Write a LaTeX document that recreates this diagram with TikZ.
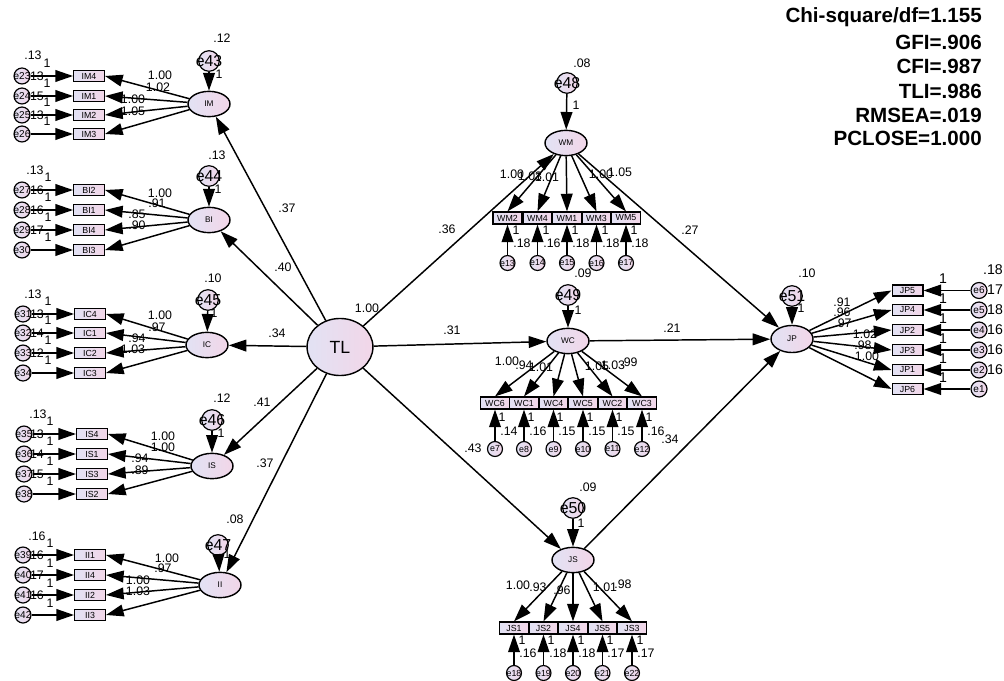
\documentclass[tikz,border=0pt]{standalone}
\usepackage{fontspec}
\setmainfont{Liberation Sans}
\usetikzlibrary{shapes.geometric,arrows.meta}
\definecolor{lav}{RGB}{226,226,244}
\definecolor{pnk}{RGB}{242,214,232}
\newcommand{\zw}[1]{\makebox[0pt][c]{#1}}
\tikzset{
  lat/.style={ellipse, draw, line width=1.2pt, left color=lav, right color=pnk, minimum width=35.7pt, minimum height=21.5pt, inner sep=0pt, font=\fontsize{7}{8}\selectfont},
  obs/.style={rectangle, draw, line width=1.2pt, left color=lav, right color=pnk, minimum width=26pt, minimum height=9.6pt, inner sep=0pt, font=\fontsize{7.5}{8}\selectfont},
  obsm/.style={obs, minimum width=24.6pt, minimum height=10pt},
  err/.style={circle, draw, line width=1pt, left color=lav, right color=pnk, minimum size=13.6pt, inner sep=0pt, font=\fontsize{8.5}{9}\selectfont},
  errs/.style={err, minimum size=12.7pt, font=\fontsize{7.5}{8}\selectfont},
  errb/.style={err, minimum size=17.5pt, font=\fontsize{13.5}{14}\selectfont},
  lbl/.style={inner sep=0pt, font=\fontsize{10.5}{11}\selectfont},
  lblr/.style={inner sep=0pt, font=\fontsize{12}{13}\selectfont},
  fit/.style={anchor=east, inner sep=0pt, font=\fontsize{17.5}{18}\selectfont\bfseries},
  arr/.style={-{Triangle[length=15pt,width=10pt]}, line width=1.25pt},
}
\begin{document}
\begin{tikzpicture}[x=0.85pt,y=-0.85pt]
\useasboundingbox (0,0) rectangle (1004,681);

% ---------- fit statistics ----------
\node[fit] (f1) at (982,17) {Chi-square/df=1.155};
\node[fit] (f2) at (982,42) {GFI=.906};
\node[fit] (f3) at (982,66) {CFI=.987};
\node[fit] (f4) at (982,91) {TLI=.986};
\node[fit] (f5) at (982,115) {RMSEA=.019};
\node[fit] (f6) at (982,138) {PCLOSE=1.000};

% ---------- labels (drawn first, arrows over them) ----------
% IM block
\node[lbl] at (33,55) {.13};
\node[lbl] at (47,63) {1}; \node[lbl] at (37,76) {13};
\node[lbl] at (47,83) {1}; \node[lbl] at (37,96) {15};
\node[lbl] at (47,102) {1}; \node[lbl] at (37,115) {13};
\node[lbl] at (47,121) {1};
\node[lbl] at (222,38) {.12}; \node[lbl] at (219,74) {1};
\node[lbl] at (160,75) {1.00}; \node[lbl] at (158,87) {1.02};
\node[lbl] at (133,99) {1.00}; \node[lbl] at (133,111) {1.05};
% BI block
\node[lbl] at (35,170) {.13};
\node[lbl] at (48,177) {1}; \node[lbl] at (37,190) {16};
\node[lbl] at (48,197) {1}; \node[lbl] at (37,210) {16};
\node[lbl] at (48,217) {1}; \node[lbl] at (37,230) {17};
\node[lbl] at (48,237) {1};
\node[lbl] at (217,155) {.13}; \node[lbl] at (218,189) {1};
\node[lbl] at (160,193) {1.00}; \node[lbl] at (157,203) {.91};
\node[lbl] at (137,214) {.85}; \node[lbl] at (137,225) {.90};
% IC block
\node[lbl] at (33,294) {.13};
\node[lbl] at (48,301) {1}; \node[lbl] at (37,314) {13};
\node[lbl] at (48,320) {1}; \node[lbl] at (37,333) {14};
\node[lbl] at (48,340) {1}; \node[lbl] at (37,353) {12};
\node[lbl] at (48,360) {1};
\node[lbl] at (213,278) {.10}; \node[lbl] at (214,313) {1};
\node[lbl] at (160,315) {1.00}; \node[lbl] at (157,327) {.97};
\node[lbl] at (137,338) {.94}; \node[lbl] at (133,349) {1.03};
% IS block
\node[lbl] at (38,414) {.13};
\node[lbl] at (50,421) {1}; \node[lbl] at (37,434) {13};
\node[lbl] at (50,441) {1}; \node[lbl] at (37,454) {14};
\node[lbl] at (50,461) {1}; \node[lbl] at (37,474) {15};
\node[lbl] at (50,481) {1};
\node[lbl] at (222,398) {.12}; \node[lbl] at (221,433) {1};
\node[lbl] at (163,436) {1.00}; \node[lbl] at (163,447) {1.00};
\node[lbl] at (140,458) {.94}; \node[lbl] at (140,470) {.89};
% II block
\node[lbl] at (37,536) {.16};
\node[lbl] at (50,543) {1}; \node[lbl] at (37,555) {16};
\node[lbl] at (50,563) {1}; \node[lbl] at (37,575) {17};
\node[lbl] at (50,583) {1}; \node[lbl] at (37,595) {16};
\node[lbl] at (50,603) {1};
\node[lbl] at (235,519) {.08}; \node[lbl] at (227,554) {1};
\node[lbl] at (167,558) {1.00}; \node[lbl] at (163,568) {.97};
\node[lbl] at (138,580) {1.00}; \node[lbl] at (138,591) {1.03};
% structural
\node[lbl] at (287,208) {.37};
\node[lbl] at (283,267) {.40};
\node[lbl] at (277,333) {.34};
\node[lbl] at (262,402) {.41};
\node[lbl] at (265,463) {.37};
\node[lbl] at (367,308) {1.00};
\node[lbl] at (447,229) {.36};
\node[lbl] at (452,330) {.31};
\node[lbl] at (473,448) {.43};
\node[lbl] at (690,230) {.27};
\node[lbl] at (672,328) {.21};
\node[lbl] at (670,439) {.34};
% WM block
\node[lbl] at (582,63) {.08}; \node[lbl] at (576,105) {1};
\node[lbl] at (512,174) {1.00}; \node[lbl] at (530,176) {1.03}; \node[lbl] at (547,177) {1.01};
\node[lbl] at (601,174) {1.00}; \node[lbl] at (620,172) {1.05};
\node[lbl] at (516,230) {1}; \node[lbl] at (522,243) {.18};
\node[lbl] at (546,230) {1}; \node[lbl] at (552,243) {.16};
\node[lbl] at (575,230) {1}; \node[lbl] at (581,243) {.18};
\node[lbl] at (605,230) {1}; \node[lbl] at (611,243) {.18};
\node[lbl] at (634,230) {1}; \node[lbl] at (640,243) {.18};
% WC block
\node[lbl] at (583,273) {.09}; \node[lbl] at (578,310) {1};
\node[lbl] at (507,361) {1.00}; \node[lbl] at (524,365) {.94}; \node[lbl] at (541,367) {1.01};
\node[lbl] at (597,366) {1.05}; \node[lbl] at (613,365) {1.03}; \node[lbl] at (629,362) {.99};
\node[lbl] at (502,417) {1}; \node[lbl] at (509,431) {.14};
\node[lbl] at (531,417) {1}; \node[lbl] at (538,431) {.16};
\node[lbl] at (560,417) {1}; \node[lbl] at (567,431) {.15};
\node[lbl] at (590,417) {1}; \node[lbl] at (597,431) {.15};
\node[lbl] at (619,417) {1}; \node[lbl] at (626,431) {.15};
\node[lbl] at (649,417) {1}; \node[lbl] at (656,431) {.16};
% JS block
\node[lbl] at (588,487) {.09}; \node[lbl] at (581,523) {1};
\node[lbl] at (518,585) {1.00}; \node[lbl] at (538,587) {.93}; \node[lbl] at (562,590) {.96};
\node[lbl] at (605,587) {1.01}; \node[lbl] at (623,584) {.98};
\node[lbl] at (522,640) {1}; \node[lbl] at (528,653) {.16};
\node[lbl] at (551,640) {1}; \node[lbl] at (558,653) {.18};
\node[lbl] at (581,640) {1}; \node[lbl] at (587,653) {.18};
\node[lbl] at (610,640) {1}; \node[lbl] at (616,653) {.17};
\node[lbl] at (640,640) {1}; \node[lbl] at (646,653) {.17};
% JP block
\node[lbl] at (807,273) {.10}; \node[lbl] at (801,308) {1};
\node[lbl] at (842,302) {.91}; \node[lbl] at (842,312) {.96}; \node[lbl] at (843,323) {.97};
\node[lbl] at (865,334) {1.02}; \node[lbl] at (863,345) {.98}; \node[lbl] at (867,356) {1.00};
\node[lblr] at (943,279) {1}; \node[lblr] at (943,299) {1}; \node[lblr] at (943,319) {1};
\node[lblr] at (943,339) {1}; \node[lblr] at (943,359) {1}; \node[lblr] at (943,378) {1};
\node[lblr] at (993,270) {.18};
\node[lblr] at (995,290) {17}; \node[lblr] at (995,310) {18}; \node[lblr] at (995,330) {16};
\node[lblr] at (995,350) {16}; \node[lblr] at (995,370) {16};

% ---------- nodes ----------
\node[lat, minimum width=56pt, minimum height=48.5pt, font=\fontsize{15}{16}\selectfont] (TL) at (340,347) {TL};

% IM
\node[lat] (IM) at (209,104) {IM};
\node[errb] (e43) at (209,61) {\zw{e43}};
\node[obs] (IM4) at (89,76) {IM4};
\node[obs] (IM1) at (89,96) {IM1};
\node[obs] (IM2) at (89,115) {IM2};
\node[obs] (IM3) at (89,134) {IM3};
\node[err] (e23) at (22,76) {\zw{e23}};
\node[err] (e24) at (22,96) {\zw{e24}};
\node[err] (e25) at (22,115) {\zw{e25}};
\node[err] (e26) at (22,134) {\zw{e26}};
% BI
\node[lat] (BI) at (209,220) {BI};
\node[errb] (e44) at (209,176) {\zw{e44}};
\node[obs] (BI2) at (89,190) {BI2};
\node[obs] (BI1) at (89,210) {BI1};
\node[obs] (BI4) at (89,230) {BI4};
\node[obs] (BI3) at (89,250) {BI3};
\node[err] (e27) at (22,190) {\zw{e27}};
\node[err] (e28) at (22,210) {\zw{e28}};
\node[err] (e29) at (22,230) {\zw{e29}};
\node[err] (e30) at (22,250) {\zw{e30}};
% IC
\node[lat] (IC) at (207,345) {IC};
\node[errb] (e45) at (208,300) {\zw{e45}};
\node[obs] (IC4) at (90,314) {IC4};
\node[obs] (IC1) at (90,333) {IC1};
\node[obs] (IC2) at (90,353) {IC2};
\node[obs] (IC3) at (90,373) {IC3};
\node[err] (e31) at (23,314) {\zw{e31}};
\node[err] (e32) at (23,333) {\zw{e32}};
\node[err] (e33) at (23,353) {\zw{e33}};
\node[err] (e34) at (23,373) {\zw{e34}};
% IS
\node[lat] (IS) at (212,466) {IS};
\node[errb] (e46) at (212,420) {\zw{e46}};
\node[obs] (IS4) at (92,434) {IS4};
\node[obs] (IS1) at (92,454) {IS1};
\node[obs] (IS3) at (92,474) {IS3};
\node[obs] (IS2) at (92,494) {IS2};
\node[err] (e35) at (24,434) {\zw{e35}};
\node[err] (e36) at (24,454) {\zw{e36}};
\node[err] (e37) at (24,474) {\zw{e37}};
\node[err] (e38) at (24,494) {\zw{e38}};
% II
\node[lat] (II) at (220,585) {II};
\node[errb] (e47) at (218,545) {\zw{e47}};
\node[obs] (II1) at (90,555) {II1};
\node[obs] (II4) at (90,575) {II4};
\node[obs] (II2) at (90,595) {II2};
\node[obs] (II3) at (90,615) {II3};
\node[err] (e39) at (23,555) {\zw{e39}};
\node[err] (e40) at (23,575) {\zw{e40}};
\node[err] (e41) at (23,595) {\zw{e41}};
\node[err] (e42) at (23,615) {\zw{e42}};
% WM
\node[lat] (WM) at (566,143) {WM};
\node[errb] (e48) at (567,83) {\zw{e48}};
\node[obsm] (WM2) at (507.5,218) {WM2};
\node[obsm] (WM4) at (537.5,218) {WM4};
\node[obsm] (WM1) at (567,218) {WM1};
\node[obsm] (WM3) at (596.5,218) {WM3};
\node[obsm] (WM5) at (626,218) {WM5};
\node[errs] (e13) at (507.5,263) {\zw{e13}};
\node[errs] (e14) at (537.5,263) {\zw{e14}};
\node[errs] (e15) at (567,263) {\zw{e15}};
\node[errs] (e16) at (596.5,263) {\zw{e16}};
\node[errs] (e17) at (626,263) {\zw{e17}};
% WC
\node[lat] (WC) at (568,341) {WC};
\node[errb] (e49) at (568,295) {\zw{e49}};
\node[obsm] (WC6) at (495,403) {WC6};
\node[obsm] (WC1) at (524,403) {WC1};
\node[obsm] (WC4) at (553.5,403) {WC4};
\node[obsm] (WC5) at (583,403) {WC5};
\node[obsm] (WC2) at (612.5,403) {WC2};
\node[obsm] (WC3) at (642,403) {WC3};
\node[errs] (e7) at (495,449) {\zw{e7}};
\node[errs] (e8) at (524,449) {\zw{e8}};
\node[errs] (e9) at (553.5,449) {\zw{e9}};
\node[errs] (e10) at (583,449) {\zw{e10}};
\node[errs] (e11) at (612.5,449) {\zw{e11}};
\node[errs] (e12) at (642,449) {\zw{e12}};
% JS
\node[lat] (JS) at (573,560) {JS};
\node[errb] (e50) at (573,508) {\zw{e50}};
\node[obsm] (JS1) at (514,628) {JS1};
\node[obsm] (JS2) at (543.5,628) {JS2};
\node[obsm] (JS4) at (573,628) {JS4};
\node[obsm] (JS5) at (602.5,628) {JS5};
\node[obsm] (JS3) at (632,628) {JS3};
\node[errs] (e18) at (514,673) {\zw{e18}};
\node[errs] (e19) at (543.5,673) {\zw{e19}};
\node[errs] (e20) at (573,673) {\zw{e20}};
\node[errs] (e21) at (602.5,673) {\zw{e21}};
\node[errs] (e22) at (632,673) {\zw{e22}};
% JP
\node[lat, minimum height=23pt] (JP) at (792,339) {JP};
\node[errb] (e51) at (792,296) {\zw{e51}};
\node[obs] (JP5) at (907.5,290.5) {JP5};
\node[obs] (JP4) at (907.5,310) {JP4};
\node[obs] (JP2) at (907.5,330) {JP2};
\node[obs] (JP3) at (907.5,350) {JP3};
\node[obs] (JP1) at (907.5,370) {JP1};
\node[obs] (JP6) at (907.5,389) {JP6};
\node[err] (e6) at (979,290.5) {\zw{e6}};
\node[err] (e5) at (979,310) {\zw{e5}};
\node[err] (e4) at (979,330) {\zw{e4}};
\node[err] (e3) at (979,350) {\zw{e3}};
\node[err] (e2) at (979,370) {\zw{e2}};
\node[err] (e1) at (979,389) {\zw{e1}};

% ---------- connectors ----------
% structural
\draw[arr] (TL) -- (IM);
\draw[arr] (TL) -- (BI);
\draw[arr] (TL) -- (IC);
\draw[arr] (TL) -- (IS);
\draw[arr] (TL) -- (II);
\draw[arr] (TL) -- (WM);
\draw[arr] (TL) -- (WC);
\draw[arr] (TL) -- (JS);
\draw[arr] (WM) -- (JP);
\draw[arr] (WC) -- (JP);
\draw[arr] (JS) -- (JP);
% disturbances
\draw[arr] (e43) -- (IM);
\draw[arr] (e44) -- (BI);
\draw[arr] (e45) -- (IC);
\draw[arr] (e46) -- (IS);
\draw[arr] (e47) -- (II);
\draw[arr] (e48) -- (WM);
\draw[arr] (e49) -- (WC);
\draw[arr] (e50) -- (JS);
\draw[arr] (e51) -- (JP);
% left measurement
\foreach \l/\a/\b/\c/\d in {IM/IM4/IM1/IM2/IM3, BI/BI2/BI1/BI4/BI3, IC/IC4/IC1/IC2/IC3, IS/IS4/IS1/IS3/IS2, II/II1/II4/II2/II3}{
  \draw[arr] (\l) -- (\a.east);
  \draw[arr] (\l) -- (\b.east);
  \draw[arr] (\l) -- (\c.east);
  \draw[arr] (\l) -- (\d.east);
}
\foreach \e/\o in {e23/IM4,e24/IM1,e25/IM2,e26/IM3,e27/BI2,e28/BI1,e29/BI4,e30/BI3,e31/IC4,e32/IC1,e33/IC2,e34/IC3,e35/IS4,e36/IS1,e37/IS3,e38/IS2,e39/II1,e40/II4,e41/II2,e42/II3}{
  \draw[arr] (\e) -- (\o.west);
}
% middle measurement
\foreach \o in {WM2,WM4,WM1,WM3,WM5}{ \draw[arr] (WM) -- (\o.north); }
\foreach \o in {WC6,WC1,WC4,WC5,WC2,WC3}{ \draw[arr] (WC) -- (\o.north); }
\foreach \o in {JS1,JS2,JS4,JS5,JS3}{ \draw[arr] (JS) -- (\o.north); }
\foreach \e/\o in {e13/WM2,e14/WM4,e15/WM1,e16/WM3,e17/WM5,e7/WC6,e8/WC1,e9/WC4,e10/WC5,e11/WC2,e12/WC3,e18/JS1,e19/JS2,e20/JS4,e21/JS5,e22/JS3}{
  \draw[arr] (\e) -- (\o.south);
}
% right measurement
\foreach \o in {JP5,JP4,JP2,JP3,JP1,JP6}{ \draw[arr] (JP) -- (\o.west); }
\foreach \e/\o in {e6/JP5,e5/JP4,e4/JP2,e3/JP3,e2/JP1,e1/JP6}{ \draw[arr] (\e) -- (\o.east); }
\end{tikzpicture}
\end{document}
